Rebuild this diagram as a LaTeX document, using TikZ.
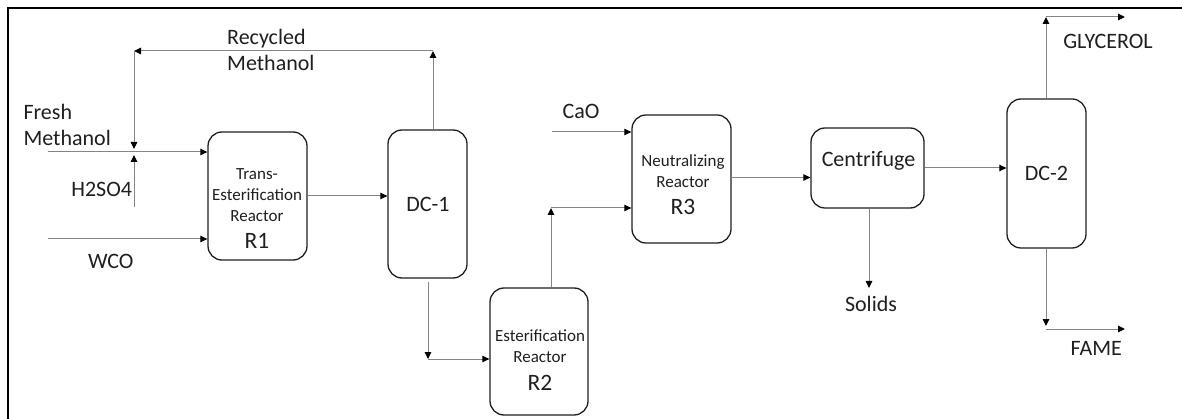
\documentclass[tikz,border=0pt]{standalone}
\usepackage{fontspec}
\setmainfont{Carlito}
\usetikzlibrary{arrows.meta}
\definecolor{conn}{HTML}{858585}
\definecolor{ink}{HTML}{1F1F1F}
\begin{document}
\begin{tikzpicture}[x=1pt,y=-1pt,
  box/.style={draw=ink, line width=1.3pt, rounded corners=14pt, inner sep=0pt},
  flow/.style={draw=conn, line width=1pt, -{Triangle[length=7pt,width=6.5pt,color=black,fill=black]}},
  big/.style={font=\fontsize{22}{26.7}\selectfont, text=ink, inner sep=0pt},
  small/.style={font=\fontsize{17}{20.6}\selectfont, text=ink, inner sep=0pt, text width=110pt, align=center, anchor=base},
]
\useasboundingbox (0,0) rectangle (1182,419);
\draw[line width=2.5pt] (8,419) -- (8,8) -- (1182,8);

% boxes
\node[box, minimum width=99pt, minimum height=128pt] (R1) at (257.5,196) {};
\node[box, minimum width=79pt, minimum height=148pt] (DC1) at (427.5,204) {};
\node[box, minimum width=98pt, minimum height=127pt] (R2) at (539,351.5) {};
\node[box, minimum width=99pt, minimum height=128pt] (R3) at (681.5,179) {};
\node[box, minimum width=113pt, minimum height=80pt] (CF) at (867.5,168) {};
\node[box, minimum width=79pt, minimum height=149pt] (DC2) at (1046.5,173.5) {};

% box texts
\node[small] (R1t) at (257,180) {Trans-\\Esterification\\Reactor\\[7.1pt]{\fontsize{23.5}{20.6}\selectfont R1}};
\node[small] (R2t) at (540,341.7) {Esterification\\Reactor\\[7.1pt]{\fontsize{23.5}{20.6}\selectfont R2}};
\node[small] (R3t) at (683,166.7) {Neutralizing\\Reactor\\[7.1pt]{\fontsize{23.5}{20.6}\selectfont R3}};
\node[big, anchor=base] (DC1t) at (428,211.7) {DC-1};
\node[big, anchor=base] (CFt) at (868.5,166.7) {Centrifuge};
\node[big, anchor=base] (DC2t) at (1046.5,181) {DC-2};

% outside labels
\node[big, anchor=base west, text width=100pt, align=left] (rec) at (227,44.3) {Recycled\\Methanol};
\node[big, anchor=base west, text width=100pt, align=left] (fresh) at (23.3,119.3) {Fresh\\Methanol};
\node[big, anchor=base] (h2so4) at (101.7,196.7) {H2SO4};
\node[big, anchor=base] (wco) at (110.8,268.3) {WCO};
\node[big, anchor=base] (cao) at (581,119) {CaO};
\node[big, anchor=base] (solids) at (871,311.7) {Solids};
\node[big, anchor=base] (gly) at (1108,48.3) {GLYCEROL};
\node[big, anchor=base] (fame) at (1096.3,355) {FAME};

% coordinates for free ends and bends
\coordinate (fm) at (48,152);
\coordinate (wc) at (48,239);
\coordinate (hs) at (134,207);
\coordinate (hsT) at (134,155);
\coordinate (rc1) at (433,51);
\coordinate (rc2) at (134,51);
\coordinate (rc3) at (134,149);
\coordinate (d1) at (428,282);
\coordinate (d2) at (428,359);
\coordinate (e1) at (551,208);
\coordinate (ca) at (552,132);
\coordinate (f0) at (731,177.5);
\coordinate (sol) at (869,288);
\coordinate (g1) at (1046,17);
\coordinate (g2) at (1125,17);
\coordinate (m1) at (1046,326);
\coordinate (m2) at (1046,329);
\coordinate (m3) at (1125,329);

% connectors
\draw[flow] (fm) -- (fm -| R1.west);
\draw[flow] (wc) -- (wc -| R1.west);
\draw[flow] (hs) -- (hsT);
\draw[flow] (R1.east) -- (R1.east -| DC1.west);
\draw[flow] (rc1 |- DC1.north) -- (rc1);
\draw[flow] (rc1) -- (rc2);
\draw[flow] (rc2) -- (rc3);
\draw[flow] (d1) -- (d2);
\draw[flow] (d2) -- (d2 -| R2.west);
\draw[flow] (e1 |- R2.north) -- (e1);
\draw[flow] (e1) -- (e1 -| R3.west);
\draw[flow] (ca) -- (ca -| R3.west);
\draw[flow] (f0) -- (f0 -| CF.west);
\draw[flow] (CF.east) -- (CF.east -| DC2.west);
\draw[flow] (sol |- CF.south) -- (sol);
\draw[flow] (g1 |- DC2.north) -- (g1);
\draw[flow] (g1) -- (g2);
\draw[flow] (m1 |- DC2.south) -- (m1);
\draw[flow] (m2) -- (m3);
\end{tikzpicture}
\end{document}
